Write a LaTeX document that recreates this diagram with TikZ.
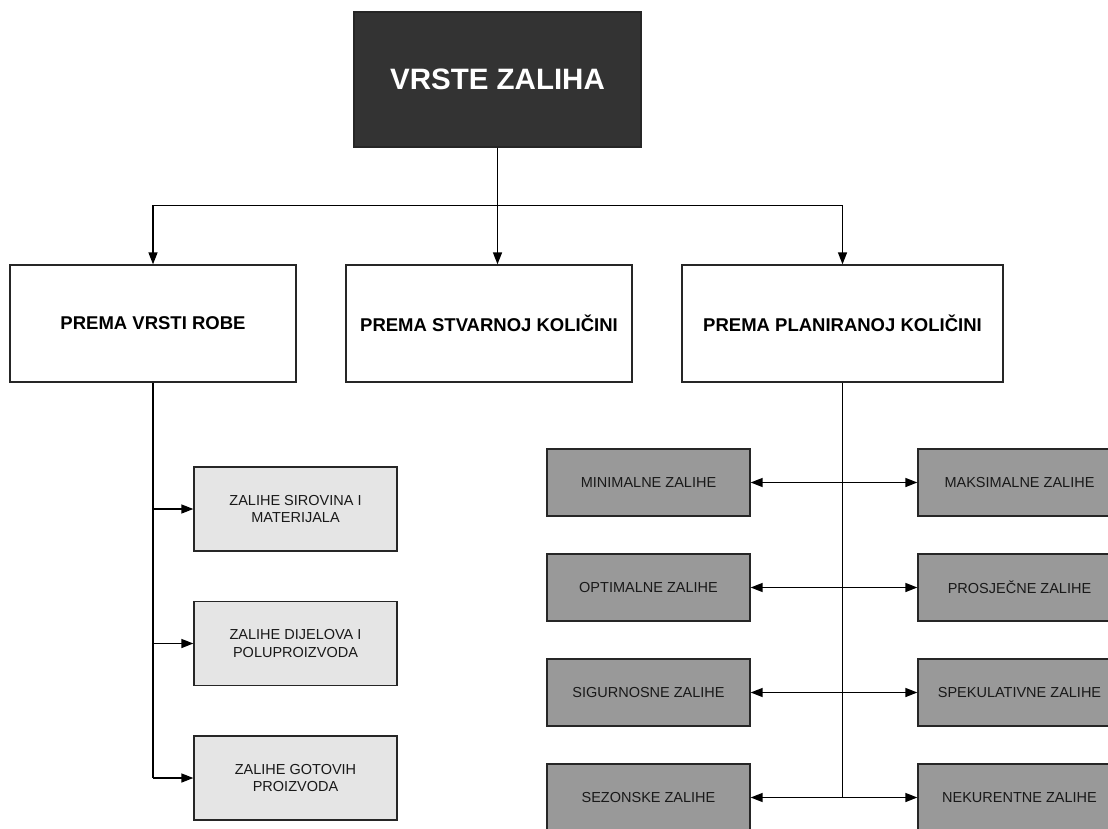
\documentclass[tikz,border=0pt]{standalone}
\usepackage{fontspec}
\setmainfont{Liberation Sans}
\usetikzlibrary{positioning, arrows.meta}

\begin{document}
\begin{tikzpicture}[
    x=1pt, y=-1pt,
    node distance=105pt,
    on grid,
    line width=1.4pt,
    box/.style={draw=black!85, line width=1.3pt, align=center, inner sep=0pt},
    rootbox/.style={box, fill=black!80, text=white, minimum width=287pt, minimum height=135pt, font=\bfseries\fontsize{29.5}{34}\selectfont},
    groupbox/.style={box, fill=white, minimum width=286pt, minimum height=117pt, font=\bfseries\fontsize{18.5}{22}\selectfont},
    lightbox/.style={box, fill=black!10, text=black!90, minimum width=203pt, minimum height=84pt, font=\fontsize{14.5}{17.5}\selectfont},
    darkbox/.style={box, fill=black!40, text=black!90, minimum width=203pt, minimum height=67pt, font=\fontsize{14.5}{17.5}\selectfont},
    >={Triangle[length=12pt, width=9pt]}
]
   \useasboundingbox (0,0) rectangle (1108,829);

   % Boxes
   \node[rootbox] (root) at (497.5,79.5) {VRSTE ZALIHA};
   \node[groupbox] (vrsta) at (153,323.5) {PREMA VRSTI ROBE};
   \node[groupbox] (stvarna) at (489,323.5) {PREMA STVARNOJ KOLIČINI};
   \node[groupbox, minimum width=321pt] (planirana) at (842.5,323.5) {PREMA PLANIRANOJ KOLIČINI};

   \node[lightbox] (lb1) at (295.5,509) {ZALIHE SIROVINA I\\MATERIJALA};
   \node[lightbox] (lb2) [below=134.5pt of lb1] {ZALIHE DIJELOVA I\\POLUPROIZVODA};
   \node[lightbox] (lb3) [below=134.5pt of lb2] {ZALIHE GOTOVIH\\PROIZVODA};

   \node[darkbox] (l1) at (648.5,482.5) {MINIMALNE ZALIHE};
   \node[darkbox] (l2) [below=of l1] {OPTIMALNE ZALIHE};
   \node[darkbox] (l3) [below=of l2] {SIGURNOSNE ZALIHE};
   \node[darkbox] (l4) [below=of l3] {SEZONSKE ZALIHE};
   \node[darkbox] (r1) [right=371pt of l1] {MAKSIMALNE ZALIHE};
   \node[darkbox] (r2) [below=of r1] {PROSJEČNE ZALIHE};
   \node[darkbox] (r3) [below=of r2] {SPEKULATIVNE ZALIHE};
   \node[darkbox] (r4) [below=of r3] {NEKURENTNE ZALIHE};

   \coordinate (split) at (497.5,205.5);

   % Connectors
   \draw (root) -- (split);
   \draw[->] (split) -- (split |- stvarna.north);
   \draw[->] (split) -| (vrsta);
   \draw[->] (split) -| (planirana);

   \draw (vrsta) -- (vrsta.south |- lb3);
   \draw (planirana) -- (planirana.south |- l4);

   \foreach \n in {lb1,lb2,lb3}
      \draw[->] (vrsta.south |- \n) -- (\n);

   \foreach \i in {1,...,4}
      \draw[<->] (l\i) -- (r\i);
\end{tikzpicture}
\end{document}
